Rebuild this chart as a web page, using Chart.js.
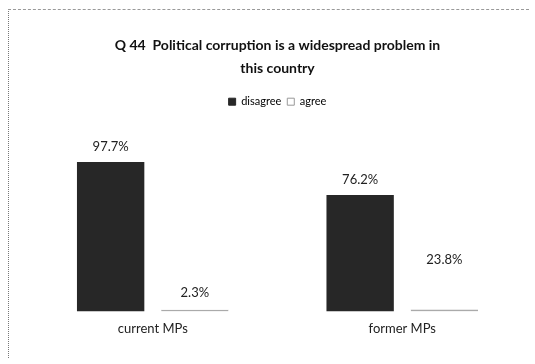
<!DOCTYPE html>
<html>
<head>
<meta charset="utf-8">
<script src="https://cdn.jsdelivr.net/npm/chart.js@4"></script>
<style>
  html, body { margin: 0; padding: 0; background: #fff; }
  #wrap { position: relative; width: 535px; height: 364px; }
  #frame {
    position: absolute; left: 8px; top: 9px; width: 520px; height: 348px;
    border-left: 1px dotted #777; border-top: 1px dashed #999;
    pointer-events: none;
  }
</style>
</head>
<body>
<div id="wrap">
  <canvas id="chart" width="535" height="364"></canvas>
  <div id="frame"></div>
</div>
<script>
const categories = ["current MPs", "former MPs"];
const disagree = [97.7, 76.2];
const agree = [2.3, 23.8];
const seriesNames = ["disagree", "agree"];

// writes each bar's value just above it
const valueLabels = {
  id: "valueLabels",
  afterDatasetsDraw(c) {
    const ctx = c.ctx;
    ctx.save();
    ctx.font = "13px Lato";
    ctx.fillStyle = "#222";
    ctx.textAlign = "center";
    ctx.textBaseline = "bottom";
    c.data.datasets.forEach((ds, i) => {
      c.getDatasetMeta(i).data.forEach((bar, j) => {
        ctx.fillText(ds.data[j].toFixed(1) + "%", bar.x, bar.y - 9);
      });
    });
    ctx.restore();
  }
};

new Chart(document.getElementById("chart"), {
  type: "bar",
  data: {
    labels: categories,
    datasets: [
      { label: seriesNames[0], data: disagree, backgroundColor: "#272727" },
      {
        label: seriesNames[1], data: agree, backgroundColor: "#ffffff",
        borderColor: "#aaaaaa", borderSkipped: false,
        borderWidth: { top: 0, left: 0, right: 0, bottom: 2 }
      }
    ]
  },
  options: {
    responsive: false,
    animation: false,
    categoryPercentage: 0.675,
    barPercentage: 0.8,
    layout: { padding: { left: 28, right: 8, bottom: 25 } },
    plugins: {
      title: {
        display: true,
        text: ["Q 44  Political corruption is a widespread problem in", "this country"],
        color: "#111",
        font: { family: "Lato", size: 14, weight: "bold", lineHeight: 1.65 },
        padding: { top: 34, bottom: 10 }
      },
      legend: {
        position: "top",
        labels: {
          color: "#333",
          font: { family: "Lato", size: 11 },
          boxWidth: 7,
          boxHeight: 7,
          padding: 6,
          generateLabels: c => c.data.datasets.map((ds, i) => ({
            text: ds.label,
            fillStyle: i === 0 ? "#272727" : "#ffffff",
            strokeStyle: i === 0 ? "#272727" : "#999999",
            lineWidth: 1,
            datasetIndex: i
          }))
        }
      },
      tooltip: { enabled: false }
    },
    scales: {
      x: {
        grid: { display: false },
        border: { display: false },
        ticks: { color: "#222", font: { family: "Lato", size: 13 }, padding: 2 }
      },
      y: { display: false, min: 0, max: 127 }
    }
  },
  plugins: [valueLabels]
});
</script>
</body>
</html>
